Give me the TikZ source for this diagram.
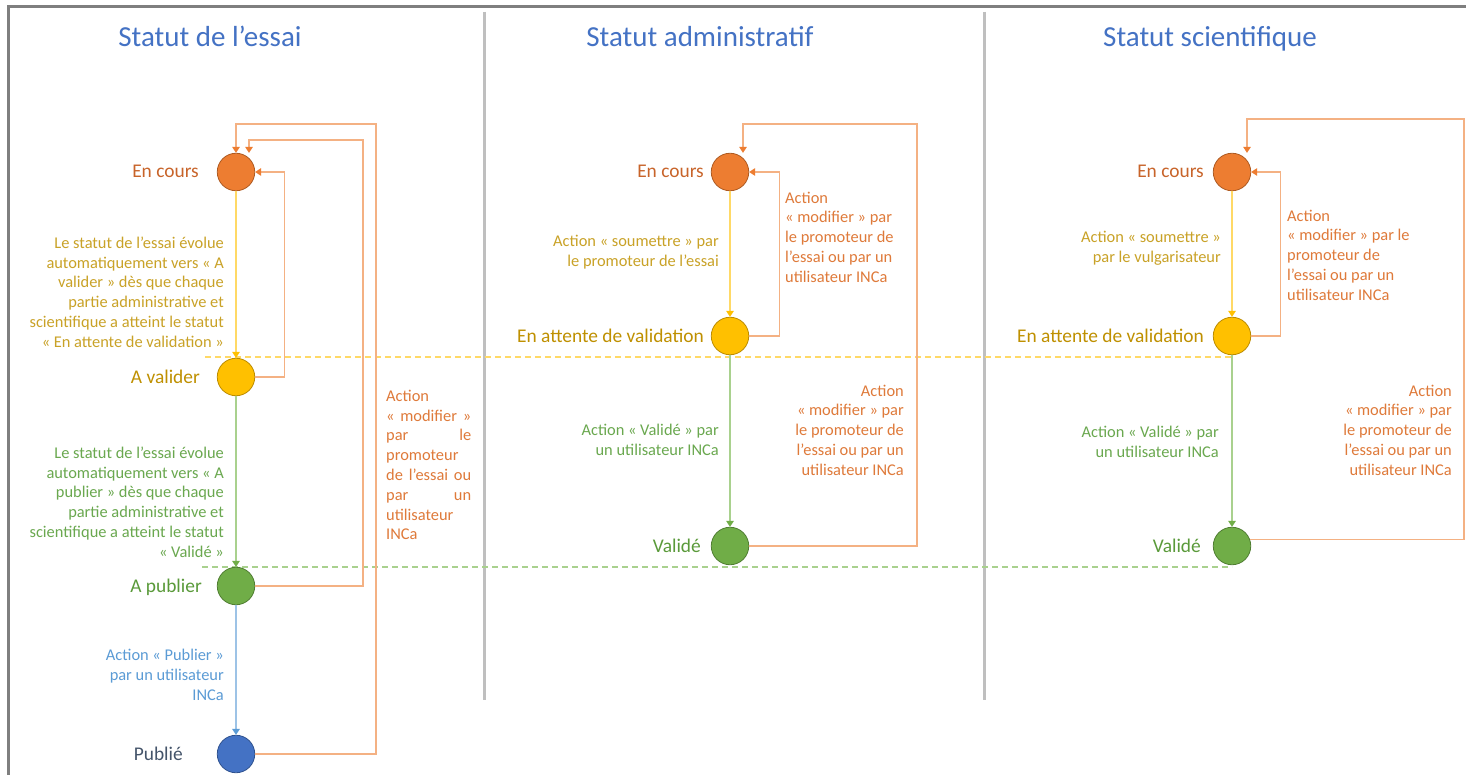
\documentclass[tikz,border=0pt]{standalone}
\usepackage{fontspec}
\setmainfont{Carlito}
\usetikzlibrary{arrows.meta}
\definecolor{cOr}{HTML}{ED7D31}\definecolor{cOrD}{HTML}{AE5A21}
\definecolor{cYe}{HTML}{FFC000}\definecolor{cYeD}{HTML}{BC8C00}
\definecolor{cGr}{HTML}{70AD47}\definecolor{cGrD}{HTML}{507E32}
\definecolor{cBl}{HTML}{4472C4}\definecolor{cBlD}{HTML}{2F528F}
\definecolor{lnOr}{HTML}{F4B183}\definecolor{tipOr}{HTML}{ED7D31}
\definecolor{lnYe}{HTML}{FFD966}\definecolor{tipYe}{HTML}{FFC000}
\definecolor{lnGr}{HTML}{A9D18E}\definecolor{tipGr}{HTML}{70AD47}
\definecolor{lnBl}{HTML}{9DC3E6}\definecolor{tipBl}{HTML}{5B9BD5}
\definecolor{labOr}{HTML}{C8642A}\definecolor{txtOr}{HTML}{DF7A3A}
\definecolor{labYe}{HTML}{BF9000}\definecolor{txtYe}{HTML}{C9A227}
\definecolor{labGr}{HTML}{5A9A3A}\definecolor{txtGr}{HTML}{6AA84F}
\definecolor{labBl}{HTML}{44546A}\definecolor{txtBl}{HTML}{5B9BD5}
\definecolor{cTitle}{HTML}{4472C4}
\definecolor{cSep}{HTML}{BFBFBF}\definecolor{cFrame}{HTML}{7F7F7F}
\begin{document}
\begin{tikzpicture}[x=1pt,y=-1pt,
  st/.style={circle,minimum size=37.5pt,inner sep=0pt,line width=0.8pt},
  nOr/.style={st,fill=cOr,draw=cOrD},
  nYe/.style={st,fill=cYe,draw=cYeD},
  nGr/.style={st,fill=cGr,draw=cGrD},
  nBl/.style={st,fill=cBl,draw=cBlD},
  lab/.style={font=\fontsize{19.4}{23}\selectfont,inner sep=0pt,anchor=base east},
  small/.style={font=\fontsize{16.4}{19.8}\selectfont,inner sep=0pt},
  ttl/.style={font=\fontsize{29}{34}\selectfont,text=cTitle,inner sep=0pt,anchor=base},
  con/.style={line width=1.3pt},
  oc/.style={con,draw=lnOr,-{Triangle[width=7.5pt,length=6pt,color=tipOr]}},
  yc/.style={con,draw=lnYe,-{Triangle[width=7.5pt,length=6pt,color=tipYe]}},
  gc/.style={con,draw=lnGr,-{Triangle[width=7.5pt,length=6pt,color=tipGr]}},
  bc/.style={con,draw=lnBl,-{Triangle[width=7.5pt,length=6pt,color=tipBl]}},
  ydash/.style={line width=1.3pt,draw=lnYe,dash pattern=on 6pt off 4pt},
  gdash/.style={line width=1.3pt,draw=lnGr,dash pattern=on 6pt off 4pt},
  sep/.style={line width=3pt,draw=cSep}]
\useasboundingbox (0,0) rectangle (1466,775);
\fill[white] (0,0) rectangle (1466,775);
% frame
\draw[line width=3pt,draw=cFrame] (1466,6.5) -- (8.5,6.5) -- (8.5,775);
% separators
\draw[sep] (484,12) -- (484,700);
\draw[sep] (984,12) -- (984,700);
% titles
\node[ttl] (t1) at (210,47) {Statut de l’essai};
\node[ttl] (t2) at (700,47) {Statut administratif};
\node[ttl] (t3) at (1210,47) {Statut scientifique};

% dashed guide lines
\coordinate (yd) at (205,357);
\coordinate (gd) at (202,567);
\coordinate (rx) at (1232,0);
\draw[ydash] (yd) -- (yd -| rx);
\draw[gdash] (gd) -- (gd -| rx);

% ===== left column =====
\node[nOr] (Ecl) at (236,172) {};
\node[nYe] (Aval) at (236,377) {};
\node[nGr] (Apub) at (236,586) {};
\node[nBl] (Publ) at (236,754) {};
\node[lab,text=labOr] (lEcl) at (199,178) {En cours};
\node[lab,text=labYe] (lAval) at (200,383) {A valider};
\node[lab,text=labGr] (lApub) at (202,592) {A publier};
\node[lab,text=labBl] (lPubl) at (183,760) {Publié};

\draw[yc] (Ecl) -- (Aval);
\draw[gc] (Aval) -- (Apub);
\draw[bc] (Apub) -- (Publ);
\draw[oc] (Aval.east) -- ++(29,0) |- (Ecl.east);
\coordinate (lc3) at (363,140);
\coordinate (la3) at (249,0);
\draw[oc] (Apub.east) -| (lc3) -| (Ecl.north -| la3);
\coordinate (lc4) at (376,124);
\draw[oc] (Publ.east) -| (lc4) -| (Ecl.north);

\node[small,text=txtYe,anchor=east,align=right] (tyl) at (224,292) {Le statut de l’essai évolue\\automatiquement vers « A\\valider » dès que chaque\\partie administrative et\\scientifique a atteint le statut\\« En attente de validation »};
\node[small,text=txtGr,anchor=east,align=right] (tgl) at (224,502) {Le statut de l’essai évolue\\automatiquement vers « A\\publier » dès que chaque\\partie administrative et\\scientifique a atteint le statut\\« Validé »};
\node[small,text=txtBl,anchor=east,align=right] (tbl) at (224,675) {Action « Publier »\\par un utilisateur\\INCa};
\node[small,text=txtOr,anchor=west,align=left] (tol) at (386,465) {Action\\\hbox to 85pt{«\hfill modifier\hfill»}\\\hbox to 85pt{par\hfill le}\\promoteur\\\hbox to 85pt{de\hfill l’essai\hfill ou}\\\hbox to 85pt{par\hfill un}\\utilisateur\\INCa};

% ===== middle column =====
\node[nOr] (Ecm) at (730,172) {};
\node[nYe] (EAm) at (730,336) {};
\node[nGr] (Valm) at (730,546) {};
\node[lab,text=labOr] (lEcm) at (704,178) {En cours};
\node[lab,text=labYe] (lEAm) at (704,342) {En attente de validation};
\node[lab,text=labGr] (lValm) at (701,552) {Validé};

\draw[yc] (Ecm) -- (EAm);
\draw[gc] (EAm) -- (Valm);
\draw[oc] (EAm.east) -- ++(30,0) |- (Ecm.east);
\coordinate (mc3) at (917,124);
\coordinate (mb3) at (743,0);
\draw[oc] (Valm.east) -| (mc3) -| (Ecm.north -| mb3);

\node[small,text=txtYe,anchor=east,align=right] (tym) at (719,252) {Action « soumettre » par\\le promoteur de l’essai};
\node[small,text=txtOr,anchor=west,align=left] (to1m) at (785,237) {Action\\« modifier » par\\le promoteur de\\l’essai ou par un\\utilisateur INCa};
\node[small,text=txtGr,anchor=east,align=right] (tgm) at (719,440) {Action « Validé » par\\un utilisateur INCa};
\node[small,text=txtOr,anchor=east,align=right] (to2m) at (904,430) {Action\\« modifier » par\\le promoteur de\\l’essai ou par un\\utilisateur INCa};

% ===== right column =====
\node[nOr] (Ecr) at (1232,172) {};
\node[nYe] (EAr) at (1232,336) {};
\node[nGr] (Valr) at (1232,546) {};
\node[lab,text=labOr] (lEcr) at (1204,178) {En cours};
\node[lab,text=labYe] (lEAr) at (1204,342) {En attente de validation};
\node[lab,text=labGr] (lValr) at (1201,552) {Validé};

\draw[yc] (Ecr) -- (EAr);
\draw[gc] (EAr) -- (Valr);
\draw[oc] (EAr.east) -- ++(29,0) |- (Ecr.east);
\coordinate (rc3) at (1464,119);
\coordinate (rb3) at (1247,0);
\draw[oc] (Valr.20) -| (rc3) -| (Ecr.north -| rb3);

\node[small,text=txtYe,anchor=east,align=right] (tyr) at (1221,248) {Action « soumettre »\\par le vulgarisateur};
\node[small,text=txtOr,anchor=west,align=left] (to1r) at (1287,255) {Action\\« modifier » par le\\promoteur de\\l’essai ou par un\\utilisateur INCa};
\node[small,text=txtGr,anchor=east,align=right] (tgr) at (1219,442) {Action « Validé » par\\un utilisateur INCa};
\node[small,text=txtOr,anchor=east,align=right] (to2r) at (1452,430) {Action\\« modifier » par\\le promoteur de\\l’essai ou par un\\utilisateur INCa};
\end{tikzpicture}
\end{document}
